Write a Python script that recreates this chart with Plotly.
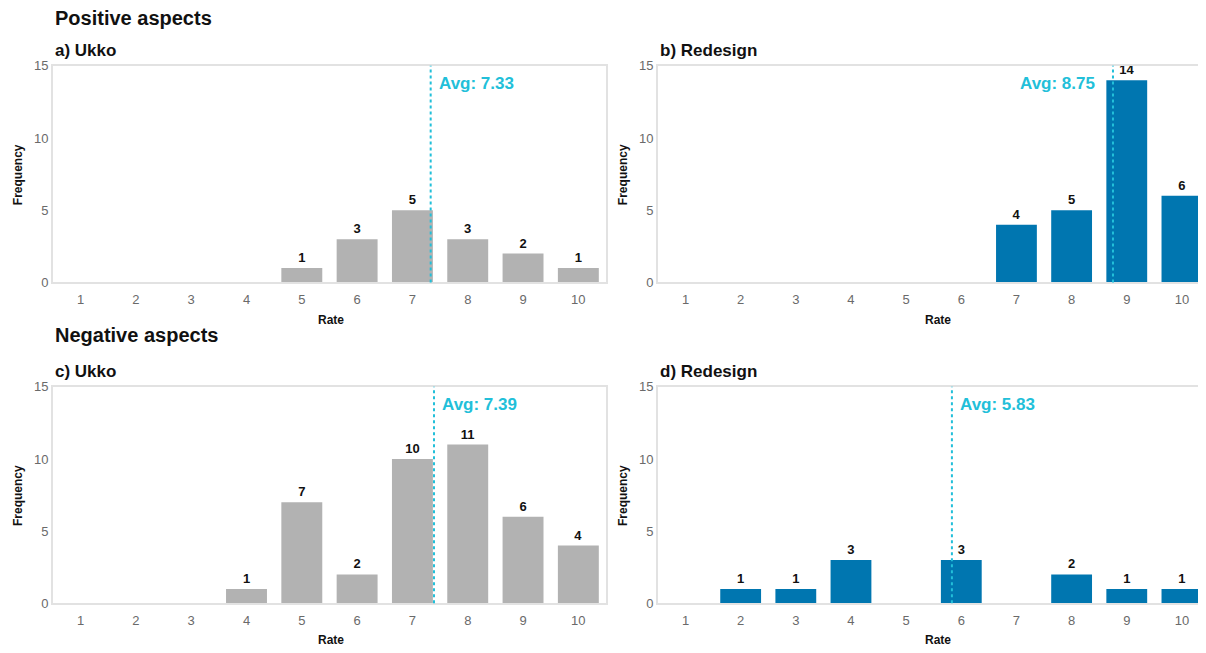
import plotly.graph_objects as go

rates = [1, 2, 3, 4, 5, 6, 7, 8, 9, 10]
pos_ukko = [0, 0, 0, 0, 1, 3, 5, 3, 2, 1]
pos_redesign = [0, 0, 0, 0, 0, 0, 4, 5, 14, 6]
neg_ukko = [0, 0, 0, 1, 7, 2, 10, 11, 6, 4]
neg_redesign = [0, 1, 1, 3, 0, 3, 0, 2, 1, 1]

avg_pos_ukko = 7.33
avg_pos_redesign = 8.75
avg_neg_ukko = 7.39
avg_neg_redesign = 5.83

panel_titles = ["a) Ukko", "b) Redesign", "c) Ukko", "d) Redesign"]
section_titles = ["Positive aspects", "Negative aspects"]
y_ticks = [0, 5, 10, 15]

GRAY = "#b2b2b2"
BLUE = "#0076b0"
CYAN = "#22bfd9"
FONT = "Liberation Sans"

# page body has an 8px margin; layout positions are given in reference-image pixels
OFF = 8
W, H = 1206 - OFF, 653 - OFF
YS, Y0 = 0.974, 7.5  # vertical calibration of the rendered picture


def px(x):
    return (x - OFF) / W


def py(y):
    return 1 - ((y - Y0) / YS - OFF) / H


fig = go.Figure()

panels = [
    dict(vals=pos_ukko, avg=avg_pos_ukko, color=GRAY, xd=[px(53), px(607)], yd=[py(282), py(66)],
         xr=[0.5, 10.5], side="right", title=panel_titles[0], rate_x=px(332)),
    dict(vals=pos_redesign, avg=avg_pos_redesign, color=BLUE, xd=[px(659), 1.0], yd=[py(282), py(66)],
         xr=[0.5, 10.4], side="left", title=panel_titles[1], rate_x=px(940)),
    dict(vals=neg_ukko, avg=avg_neg_ukko, color=GRAY, xd=[px(53), px(607)], yd=[py(602), py(386)],
         xr=[0.5, 10.5], side="right", title=panel_titles[2], rate_x=px(332)),
    dict(vals=neg_redesign, avg=avg_neg_redesign, color=BLUE, xd=[px(659), 1.0], yd=[py(602), py(386)],
         xr=[0.5, 10.4], side="right", title=panel_titles[3], rate_x=px(940)),
]

annotations = []
shapes = []
for i, p in enumerate(panels):
    n = i + 1
    xa = "x" if n == 1 else f"x{n}"
    ya = "y" if n == 1 else f"y{n}"
    fig.add_trace(go.Bar(
        x=rates, y=p["vals"], marker=dict(color=p["color"], line=dict(width=0)),
        text=[f"<b>{v}</b>" if v > 0 else "" for v in p["vals"]],
        textposition="outside", cliponaxis=False,
        textfont=dict(family=FONT, size=13, color="#111111"),
        xaxis=xa, yaxis=ya, showlegend=False, hoverinfo="skip",
    ))
    axis_common = dict(showgrid=False, zeroline=False, showline=True, mirror=True,
                       linecolor="#e2e2e2", linewidth=1.5, ticks="",
                       tickfont=dict(family=FONT, size=13, color="#6a6a6a"))
    fig.update_layout(**{
        ("xaxis" if n == 1 else f"xaxis{n}"): dict(
            domain=p["xd"], range=p["xr"], anchor=ya, tickmode="array",
            tickvals=rates, ticktext=[str(r) for r in rates], ticklabelstandoff=4, **axis_common),
        ("yaxis" if n == 1 else f"yaxis{n}"): dict(
            domain=p["yd"], range=[0, 15], anchor=xa, tickmode="array",
            tickvals=y_ticks, ticktext=[str(t) for t in y_ticks], **axis_common),
    })
    # average dotted line
    shapes.append(dict(type="line", xref=xa, yref=f"{ya} domain", x0=p["avg"], x1=p["avg"],
                       y0=0, y1=1, line=dict(color=CYAN, width=2, dash="dot"), layer="above"))
    annotations.append(dict(
        xref=xa, yref="paper", x=p["avg"], y=py(84 if n < 3 else 404),
        text=f"<b>Avg: {p['avg']:.2f}</b>", showarrow=False,
        xanchor="left" if p["side"] == "right" else "right",
        xshift=6 if p["side"] == "right" else -16, yanchor="middle",
        font=dict(family=FONT, size=17, color=CYAN)))
    # panel title
    top = 66 if n < 3 else 386
    bottom = 282 if n < 3 else 602
    annotations.append(dict(
        xref="paper", yref="paper", x=p["xd"][0], y=py(top - 15),
        text=f"<b>{p['title']}</b>", showarrow=False, xanchor="left", yanchor="middle",
        font=dict(family=FONT, size=17, color="#111111")))
    # axis titles
    annotations.append(dict(
        xref="paper", yref="paper", x=p["rate_x"], y=py(bottom + 37),
        text="<b>Rate</b>", showarrow=False, xanchor="center", yanchor="middle",
        font=dict(family=FONT, size=12, color="#111111")))
    annotations.append(dict(
        xref="paper", yref="paper", x=px(18), y=py((top + bottom) / 2),
        text="<b>Frequency</b>", showarrow=False, textangle=-90, xanchor="center", yanchor="middle",
        font=dict(family=FONT, size=12, color="#111111")))
    annotations[-1]["x"] = p["xd"][0] - 35 / W

annotations.append(dict(xref="paper", yref="paper", x=px(53), y=py(18), text=f"<b>{section_titles[0]}</b>",
                        showarrow=False, xanchor="left", yanchor="middle",
                        font=dict(family=FONT, size=20, color="#111111")))
annotations.append(dict(xref="paper", yref="paper", x=px(53), y=py(334), text=f"<b>{section_titles[1]}</b>",
                        showarrow=False, xanchor="left", yanchor="middle",
                        font=dict(family=FONT, size=20, color="#111111")))

fig.update_layout(
    width=W, height=H, margin=dict(l=0, r=0, t=0, b=0),
    paper_bgcolor="white", plot_bgcolor="white",
    bargap=0.26, annotations=annotations, shapes=shapes,
    font=dict(family=FONT),
)

fig.write_html("out.html")
